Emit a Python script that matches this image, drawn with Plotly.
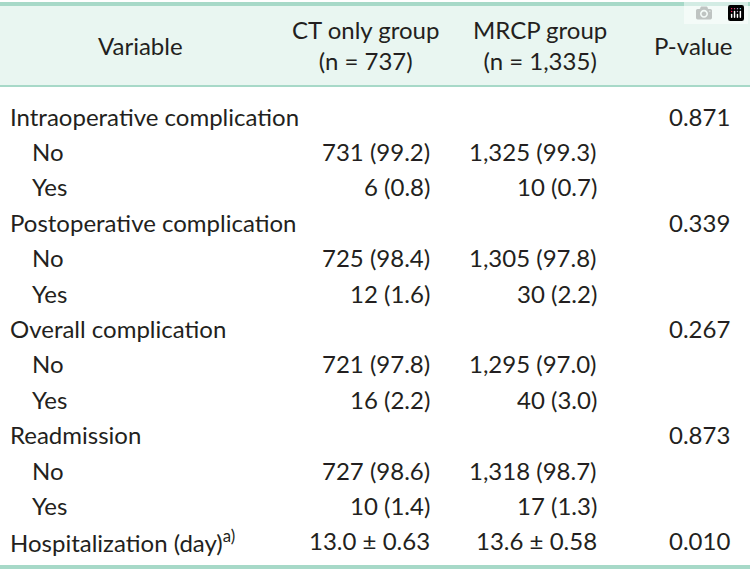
import plotly.graph_objects as go

header = ["Variable", "CT only group<br>(n = 737)", "MRCP group<br>(n = 1,335)", "P-value"]
variables = ["Intraoperative complication", "No", "Yes", "Postoperative complication", "No", "Yes",
             "Overall complication", "No", "Yes", "Readmission", "No", "Yes",
             "Hospitalization (day)<sup>a)</sup>"]
indent = [0, 1, 1, 0, 1, 1, 0, 1, 1, 0, 1, 1, 0]
ct = ["", "731 (99.2)", "6 (0.8)", "", "725 (98.4)", "12 (1.6)", "", "721 (97.8)", "16 (2.2)",
      "", "727 (98.6)", "10 (1.4)", "13.0 ± 0.63"]
mrcp = ["", "1,325 (99.3)", "10 (0.7)", "", "1,305 (97.8)", "30 (2.2)", "", "1,295 (97.0)", "40 (3.0)",
        "", "1,318 (98.7)", "17 (1.3)", "13.6 ± 0.58"]
pval = ["0.871", "", "", "0.339", "", "", "0.267", "", "", "0.873", "", "", "0.010"]

TEAL = "#a7d9c8"
TXT = "#231f20"
FONT = dict(family="Lato, Open Sans, sans-serif", size=24, color=TXT)

fig = go.Figure()
shapes = [
    dict(type="rect", x0=0, x1=750, y0=5, y1=86, fillcolor="#e9f6f1", line_width=0, layer="below"),
    dict(type="line", x0=0, x1=750, y0=4, y1=4, line=dict(color=TEAL, width=4)),
    dict(type="line", x0=0, x1=750, y0=86, y1=86, line=dict(color=TEAL, width=2)),
    dict(type="line", x0=0, x1=750, y0=567, y1=567, line=dict(color=TEAL, width=4)),
]
ann = []
for txt, xc in zip(header, [140, 365, 540, 693]):
    ann.append(dict(x=xc, y=45, text=txt, xanchor="center", yanchor="middle", showarrow=False, font=FONT))
for i in range(len(variables)):
    y = 116 + i * 35.4
    ann.append(dict(x=8 + 22 * indent[i], y=y, text=variables[i], xanchor="left", yanchor="middle", showarrow=False, font=FONT))
    for vals, xr in ((ct, 432), (mrcp, 599), (pval, 732)):
        if vals[i]:
            ann.append(dict(x=xr, y=y, text=vals[i], xanchor="right", yanchor="middle", showarrow=False, font=FONT))

fig.update_layout(width=750, height=572, margin=dict(l=0, r=0, t=0, b=0),
                  paper_bgcolor="white", plot_bgcolor="white",
                  xaxis=dict(range=[0, 750], visible=False, fixedrange=True),
                  yaxis=dict(range=[572, 0], visible=False, fixedrange=True),
                  shapes=shapes, annotations=ann, showlegend=False)
fig.write_html("out.html", post_script="document.body.style.margin='0';document.body.style.overflow='hidden';")
